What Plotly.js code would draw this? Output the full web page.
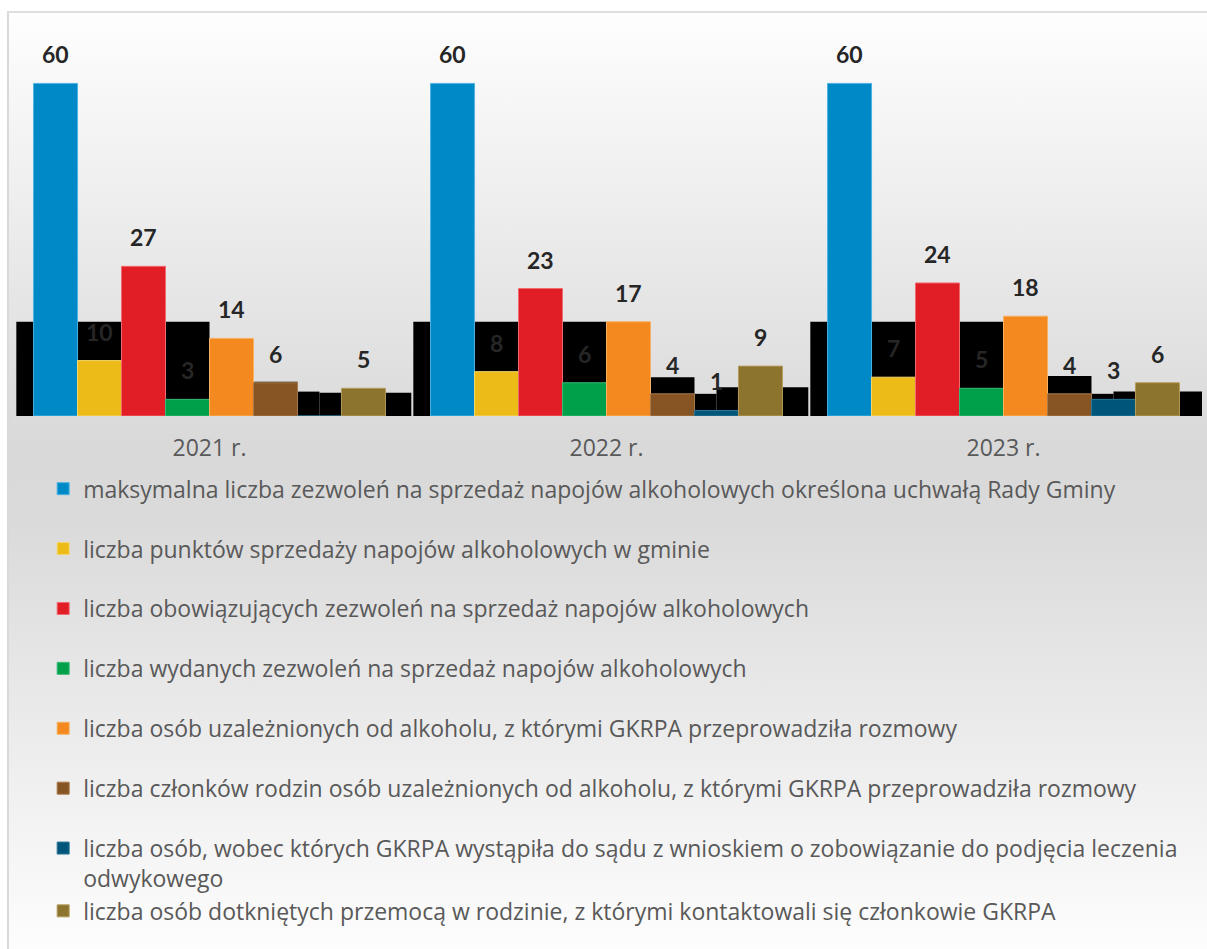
<!DOCTYPE html>
<html>
<head>
<meta charset="utf-8">
<script src="https://cdn.plot.ly/plotly-3.0.1.min.js"></script>
<style>
html,body{margin:0;padding:0;background:#ffffff;width:1207px;height:949px;overflow:hidden}
#frame{position:absolute;left:7px;top:11px;width:1200px;height:938px;box-sizing:border-box;border-left:2px solid #d9d9d9;border-top:2px solid #dedede;background:linear-gradient(to bottom,#fefefe 0%,#d9d9d9 46%,#dadada 54%,#fdfdfd 100%)}
#chart{position:absolute;left:0;top:0;width:1207px;height:949px}
</style>
</head>
<body>
<div id="frame"></div>
<div id="chart"></div>
<script>
// ---- data ----
const categories = ['2021 r.', '2022 r.', '2023 r.'];
const seriesNames = [
  'maksymalna liczba zezwoleń na sprzedaż napojów alkoholowych określona uchwałą Rady Gminy',
  'liczba punktów sprzedaży napojów alkoholowych w gminie',
  'liczba obowiązujących zezwoleń na sprzedaż napojów alkoholowych',
  'liczba wydanych zezwoleń na sprzedaż napojów alkoholowych',
  'liczba osób uzależnionych od alkoholu, z którymi GKRPA przeprowadziła rozmowy',
  'liczba członków rodzin osób uzależnionych od alkoholu, z którymi GKRPA przeprowadziła rozmowy',
  'liczba osób, wobec których GKRPA wystąpiła do sądu z wnioskiem o zobowiązanie do podjęcia leczenia<br>odwykowego',
  'liczba osób dotkniętych przemocą w rodzinie, z którymi kontaktowali się członkowie GKRPA'
];
const maxPermits       = [60, 60, 60];
const salePoints       = [10, 8, 7];
const validPermits     = [27, 23, 24];
const issuedPermits    = [3, 6, 5];
const addictedTalks    = [14, 17, 18];
const familyTalks      = [6, 4, 4];
const courtReferrals   = [0, 1, 3];
const violenceContacts = [5, 9, 6];
// black backdrop steps seen behind the bars in the original picture, per year
const backdrop2021 = [17, 6.2, 4.4, 4.2];
const backdrop2022 = [17, 7.0, 4.0, 5.2];
const backdrop2023 = [17, 7.2, 4.0, 4.4];

// ---- styling ----
const allSeries = [maxPermits, salePoints, validPermits, issuedPermits, addictedTalks, familyTalks, courtReferrals, violenceContacts];
const backdrops = [backdrop2021, backdrop2022, backdrop2023];
const fills = ['#0089c7', '#ecbb18', '#e11e26', '#00a04b', '#f4891f', '#875424', '#00567a', '#8c742f'];
const edges = ['#4cb3e3', '#f5d66a', '#f06a6f', '#38b978', '#f8b062', '#a97a4a', '#2d7898', '#b49c5c'];
const SLOT = 0.1108;
const START = -4 * SLOT;
const FONT = '"Open Sans", "Noto Sans", sans-serif';
const LABEL_FONT = 'Lato, "Open Sans", sans-serif';

const xs = categories.map((c, i) => i);
const traces = [];

// backdrop (drawn first, beneath the bars)
const segLeft = [-0.4866, 0, 2 * SLOT, 2.5 * SLOT];
const segRight = [0, 2 * SLOT, 2.5 * SLOT, 0.5083];
const bx = [], by = [], bo = [], bw = [];
backdrops.forEach((levels, ci) => {
  levels.forEach((h, si) => {
    bx.push(ci); by.push(h + 0.3); bo.push(segLeft[si]); bw.push(segRight[si] - segLeft[si]);
  });
});
traces.push({
  type: 'bar', x: bx, y: by, base: -0.3, offset: bo, width: bw,
  marker: {color: '#000000', line: {width: 0}},
  showlegend: false, hoverinfo: 'skip', cliponaxis: false
});

allSeries.forEach((vals, i) => {
  traces.push({
    type: 'bar', name: seriesNames[i], x: xs, y: vals,
    width: SLOT, offset: START + i * SLOT,
    marker: {color: fills[i], line: {color: edges[i], width: 1}},
    legendgroup: i === 7 ? 'g6' : 'g' + i,
    hovertemplate: '%{y}<extra></extra>'
  });
});

const annotations = [];
allSeries.forEach((vals, i) => {
  vals.forEach((v, ci) => {
    if (v === 0) return;
    annotations.push({
      x: ci + START + (i + 0.5) * SLOT, y: v, xref: 'x', yref: 'y',
      text: String(v), showarrow: false, yanchor: 'bottom', yshift: 13,
      font: {family: LABEL_FONT, size: 23, color: '#262626', weight: 'bold'}
    });
  });
});

const layout = {
  width: 1207, height: 949,
  paper_bgcolor: 'rgba(0,0,0,0)', plot_bgcolor: 'rgba(0,0,0,0)',
  margin: {l: 11, r: 5, t: 28, b: 533, autoexpand: false},
  barmode: 'overlay',
  font: {family: FONT, color: '#595959'},
  xaxis: {
    type: 'linear', range: [-0.5, 2.5], tickvals: xs, ticktext: categories,
    showgrid: false, zeroline: false, showline: false, ticks: '',
    tickfont: {family: FONT, size: 23, color: '#595959'}, ticklabelstandoff: 16
  },
  yaxis: {range: [0, 70], showgrid: false, zeroline: false, showline: false, showticklabels: false, ticks: ''},
  showlegend: true,
  legend: {
    orientation: 'v', x: 0.027, xanchor: 'left', y: -0.132, yanchor: 'top',
    bgcolor: 'rgba(0,0,0,0)', borderwidth: 0, tracegroupgap: 27, valign: 'top',
    font: {family: FONT, size: 23, color: '#595959'}
  },
  annotations: annotations
};

Plotly.newPlot('chart', traces, layout, {displayModeBar: false});
</script>
</body>
</html>
